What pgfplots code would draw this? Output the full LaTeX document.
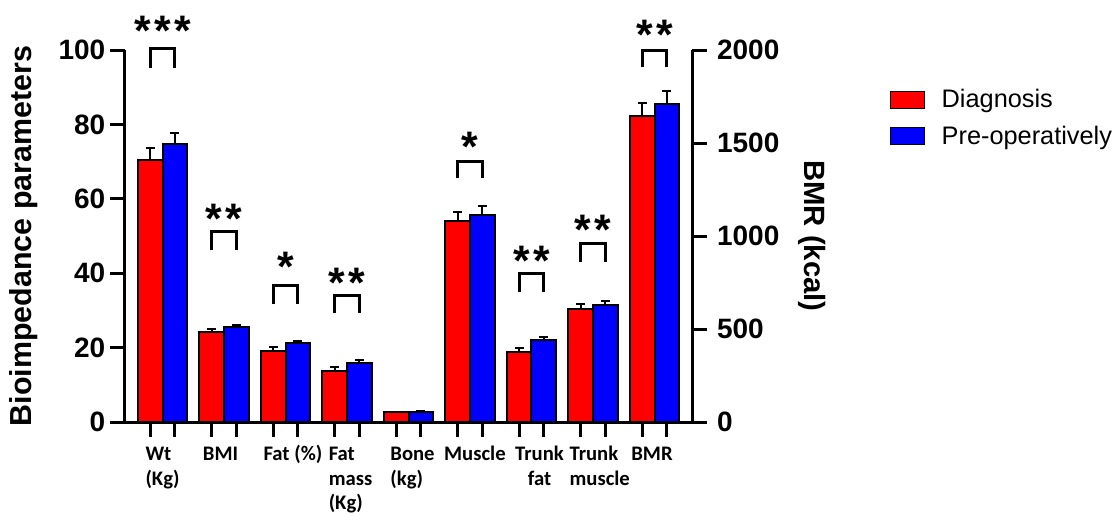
\documentclass[border=0pt]{standalone}
\usepackage{fontspec}
\setmainfont{Liberation Sans}
\newfontfamily\carlito{Carlito}
\usepackage{pgfplots}
\pgfplotsset{compat=1.18}
\begin{document}
\begin{tikzpicture}
\useasboundingbox (0,0) rectangle (838.5pt,389.25pt);
\pgfplotsset{
  common/.style={
    at={(93.75pt,72.75pt)}, anchor=south west,
    scale only axis, width=425.25pt, height=279pt,
    xmin=-0.61, xmax=8.61, enlargelimits=false, clip=false,
    axis line style={line width=2.25pt},
    tick style={line width=2.25pt, black},
    major tick length=11.25pt, tick align=outside,
    /pgf/number format/assume math mode=true,
    /pgf/number format/1000 sep={},
    yticklabel style={font=\bfseries\fontsize{21}{21}\selectfont},
    ybar, bar width=0.4, bar shift=0pt,
  },
  bars/.style={fill=#1, draw=black, line width=1.5pt,
    error bars/.cd, y dir=plus, y explicit,
    error bar style={line width=1.5pt, black},
    error mark options={rotate=90, line width=1.5pt, mark size=3.4pt, black}},
}
\begin{axis}[common,
  ymin=0, ymax=100, ytick={0,20,...,100},
  axis x line*=bottom, axis y line*=left,
  xtick={-0.2,0.2,0.8,1.2,1.8,2.2,2.8,3.2,3.8,4.2,4.8,5.2,5.8,6.2,6.8,7.2,7.8,8.2},
  xticklabels={},
  extra x ticks={0,0.943,2.12,3.057,4.065,5.08,6.13,7.11,7.96},
  extra x tick labels={
    {\begin{tabular}{@{}l@{}}Wt\\(Kg)\end{tabular}},
    {\begin{tabular}{@{}l@{}}BMI\end{tabular}},
    {\begin{tabular}{@{}l@{}}Fat (\%)\end{tabular}},
    {\begin{tabular}{@{}l@{}}Fat\\mass\\(Kg)\end{tabular}},
    {\begin{tabular}{@{}l@{}}Bone\\(kg)\end{tabular}},
    {\begin{tabular}{@{}l@{}}Muscle\end{tabular}},
    {\begin{tabular}{@{}c@{}}Trunk\\fat\end{tabular}},
    {\begin{tabular}{@{}l@{}}Trunk\\muscle\end{tabular}},
    {\begin{tabular}{@{}l@{}}BMR\end{tabular}}},
  extra x tick style={major tick length=0pt,
    xticklabel style={anchor=north, yshift=-15pt, inner sep=1pt,
      font=\carlito\bfseries\fontsize{15.5}{18.4}\selectfont}},
  ylabel={Bioimpedance parameters},
  every axis y label/.style={at={(axis description cs:0,0.5)}, xshift=-76pt,
    rotate=90, anchor=center, font=\bfseries\fontsize{22.8}{22.8}\selectfont},
  legend style={at={(axis description cs:1,1)}, anchor=north west,
    xshift=145pt, yshift=-25.5pt, draw=none, fill=none,
    font=\fontsize{19}{19}\selectfont, row sep=8pt},
  legend cell align=left,
  legend image code/.code={\draw[#1, line width=0.6pt] (0pt,-6.4pt) rectangle (25.5pt,6.4pt); \path (36pt,0pt);},
]
\addplot[bars=red] coordinates {
  (-0.2,70.4) +- (0,3.2)
  (0.8,24.3) +- (0,0.7)
  (1.8,19.1) +- (0,1.0)
  (2.8,13.7) +- (0,1.2)
  (3.8,2.7) +- (0,0.1)
  (4.8,54.1) +- (0,2.4)
  (5.8,18.7) +- (0,1.1)
  (6.8,30.3) +- (0,1.3)
};
\addlegendentry{Diagnosis}
\addplot[bars=blue] coordinates {
  (0.2,74.7) +- (0,3.1)
  (1.2,25.6) +- (0,0.6)
  (2.2,21.2) +- (0,0.7)
  (3.2,15.8) +- (0,0.9)
  (4.2,2.8) +- (0,0.1)
  (5.2,55.6) +- (0,2.5)
  (6.2,22.0) +- (0,0.9)
  (7.2,31.4) +- (0,1.1)
};
\addlegendentry{Pre-operatively}
% significance brackets
\tikzset{br/.style={line width=2.25pt, line join=miter, black},
  st/.style={anchor=base, inner sep=0pt, font=\bfseries\fontsize{32}{32}\selectfont}}
\draw[br] (axis cs:-0.2,95.2) -- (axis cs:-0.2,100.5) -- (axis cs:0.2,100.5) -- (axis cs:0.2,95.2);
\node[st] at (axis cs:0,101.2) {*\hspace{2.5pt}*\hspace{2.5pt}*};
\draw[br] (axis cs:0.8,46.2) -- (axis cs:0.8,51.2) -- (axis cs:1.2,51.2) -- (axis cs:1.2,46.2);
\node[st] at (axis cs:1,50.8) {*\hspace{2.5pt}*};
\draw[br] (axis cs:1.8,31.7) -- (axis cs:1.8,36.8) -- (axis cs:2.2,36.8) -- (axis cs:2.2,31.7);
\node[st] at (axis cs:2,37.7) {*};
\draw[br] (axis cs:2.8,29.3) -- (axis cs:2.8,34.1) -- (axis cs:3.2,34.1) -- (axis cs:3.2,29.3);
\node[st] at (axis cs:3,33.6) {*\hspace{2.5pt}*};
\draw[br] (axis cs:4.8,65.5) -- (axis cs:4.8,70.0) -- (axis cs:5.2,70.0) -- (axis cs:5.2,65.5);
\node[st] at (axis cs:5,70.0) {*};
\draw[br] (axis cs:5.8,34.9) -- (axis cs:5.8,39.8) -- (axis cs:6.2,39.8) -- (axis cs:6.2,34.9);
\node[st] at (axis cs:6,39.5) {*\hspace{2.5pt}*};
\draw[br] (axis cs:6.8,43.1) -- (axis cs:6.8,48.0) -- (axis cs:7.2,48.0) -- (axis cs:7.2,43.1);
\node[st] at (axis cs:7,47.7) {*\hspace{2.5pt}*};
\draw[br] (axis cs:7.8,95.5) -- (axis cs:7.8,100) -- (axis cs:8.2,100) -- (axis cs:8.2,95.5);
\node[st] at (axis cs:8,100.1) {*\hspace{2.5pt}*};
\end{axis}
\begin{axis}[common,
  ymin=0, ymax=2000, ytick={0,500,...,2000},
  axis x line=none, axis y line*=right,
  yticklabel style={xshift=4pt},
  ylabel={BMR (kcal)},
  every axis y label/.style={at={(axis description cs:1,0.5)}, xshift=90pt,
    rotate=-90, anchor=center, font=\bfseries\fontsize{22}{22}\selectfont},
]
\addplot[bars=red] coordinates {(7.8,1645) +- (0,68)};
\addplot[bars=blue] coordinates {(8.2,1708) +- (0,74)};
\end{axis}
\end{tikzpicture}
\end{document}
